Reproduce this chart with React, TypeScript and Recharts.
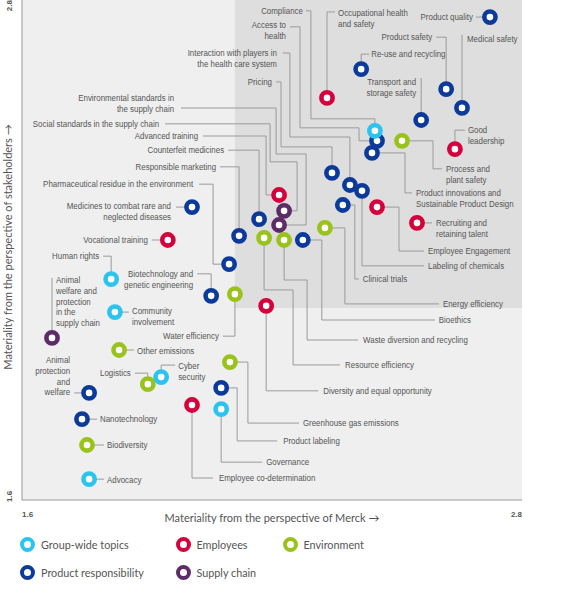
import React from 'react';
import { ScatterChart, Scatter, XAxis, YAxis, ReferenceArea } from 'recharts';

type Topic = { topic: string; x: number; y: number };

// ---------- data (materiality: x = Merck, y = stakeholders) ----------
const groupWideTopics: Topic[] = [
  { topic: 'Compliance', x: 2.447, y: 2.486 },
  { topic: 'Human rights', x: 1.814, y: 2.13 },
  { topic: 'Community involvement', x: 1.823, y: 2.051 },
  { topic: 'Cyber security', x: 1.934, y: 1.895 },
  { topic: 'Governance', x: 2.078, y: 1.818 },
  { topic: 'Advocacy', x: 1.761, y: 1.65 },
];

const productResponsibility: Topic[] = [
  { topic: 'Product quality', x: 2.723, y: 2.759 },
  { topic: 'Re-use and recycling', x: 2.414, y: 2.634 },
  { topic: 'Product safety', x: 2.618, y: 2.586 },
  { topic: 'Medical safety', x: 2.656, y: 2.541 },
  { topic: 'Transport and storage safety', x: 2.558, y: 2.512 },
  { topic: 'Access to health', x: 2.452, y: 2.462 },
  { topic: 'Product innovations and Sustainable Product Design', x: 2.44, y: 2.433 },
  { topic: 'Pricing', x: 2.344, y: 2.385 },
  { topic: 'Interaction with players in the health care system', x: 2.387, y: 2.356 },
  { topic: 'Labeling of chemicals', x: 2.416, y: 2.342 },
  { topic: 'Clinical trials', x: 2.37, y: 2.308 },
  { topic: 'Bioethics', x: 2.274, y: 2.224 },
  { topic: 'Medicines to combat rare and neglected diseases', x: 2.008, y: 2.303 },
  { topic: 'Counterfeit medicines', x: 2.169, y: 2.274 },
  { topic: 'Responsible marketing', x: 2.121, y: 2.234 },
  { topic: 'Pharmaceutical residue in the environment', x: 2.097, y: 2.166 },
  { topic: 'Biotechnology and genetic engineering', x: 2.054, y: 2.09 },
  { topic: 'Animal protection and welfare', x: 1.761, y: 1.857 },
  { topic: 'Nanotechnology', x: 1.744, y: 1.794 },
  { topic: 'Product labeling', x: 2.078, y: 1.869 },
];

const employees: Topic[] = [
  { topic: 'Occupational health and safety', x: 2.332, y: 2.565 },
  { topic: 'Good leadership', x: 2.639, y: 2.442 },
  { topic: 'Advanced training', x: 2.217, y: 2.332 },
  { topic: 'Employee Engagement', x: 2.452, y: 2.303 },
  { topic: 'Recruiting and retaining talent', x: 2.548, y: 2.265 },
  { topic: 'Vocational training', x: 1.95, y: 2.224 },
  { topic: 'Diversity and equal opportunity', x: 2.186, y: 2.066 },
  { topic: 'Employee co-determination', x: 2.008, y: 1.828 },
];

const environment: Topic[] = [
  { topic: 'Process and plant safety', x: 2.512, y: 2.462 },
  { topic: 'Resource efficiency', x: 2.181, y: 2.229 },
  { topic: 'Waste diversion and recycling', x: 2.229, y: 2.224 },
  { topic: 'Energy efficiency', x: 2.327, y: 2.253 },
  { topic: 'Water efficiency', x: 2.111, y: 2.094 },
  { topic: 'Other emissions', x: 1.833, y: 1.96 },
  { topic: 'Logistics', x: 1.902, y: 1.878 },
  { topic: 'Greenhouse gas emissions', x: 2.099, y: 1.931 },
  { topic: 'Biodiversity', x: 1.756, y: 1.732 },
];

const supplyChain: Topic[] = [
  { topic: 'Social standards in the supply chain', x: 2.229, y: 2.294 },
  { topic: 'Environmental standards in the supply chain', x: 2.217, y: 2.26 },
  { topic: 'Animal welfare and protection in the supply chain', x: 1.672, y: 1.989 },
];

const axisTicks = [1.6, 2.8];
const axisDomain: [number, number] = [1.6, 2.8];
const highlightFrom = { x: 2.111, y: 2.061 };

// ---------- styling ----------
const COLORS = {
  group: '#2BC4F0',
  product: '#0B3A9A',
  employees: '#D5003B',
  environment: '#99C31B',
  supply: '#5D2C68',
};

const series = [
  { key: 'product', name: 'Product responsibility', data: productResponsibility, color: COLORS.product },
  { key: 'employees', name: 'Employees', data: employees, color: COLORS.employees },
  { key: 'environment', name: 'Environment', data: environment, color: COLORS.environment },
  { key: 'supply', name: 'Supply chain', data: supplyChain, color: COLORS.supply },
  { key: 'group', name: 'Group-wide topics', data: groupWideTopics, color: COLORS.group },
];

const legendRows = [
  [
    { name: 'Group-wide topics', color: COLORS.group },
    { name: 'Employees', color: COLORS.employees },
    { name: 'Environment', color: COLORS.environment },
  ],
  [
    { name: 'Product responsibility', color: COLORS.product },
    { name: 'Supply chain', color: COLORS.supply },
  ],
];

const allTopics: Topic[] = [
  ...productResponsibility,
  ...employees,
  ...environment,
  ...supplyChain,
  ...groupWideTopics,
];

// label placement, in pixel offsets from each marker's centre
type Layout = { lines?: string[]; anchor: 'start' | 'end'; dx: number; dy: number; path: [number, number][] };
const labelLayout: Record<string, Layout> = {
  Compliance: { anchor: 'end', dx: -72, dy: -120, path: [[-69, -120], [-64, -120], [-64, -12], [0, -12]] },
  'Human rights': { anchor: 'end', dx: -12, dy: -23, path: [[-8, -23], [0, -23]] },
  'Community involvement': { lines: ['Community', 'involvement'], anchor: 'start', dx: 17, dy: -1, path: [[14, 0]] },
  'Cyber security': { lines: ['Cyber', 'security'], anchor: 'start', dx: 17, dy: -11, path: [[14, -12], [0, -12]] },
  Governance: { anchor: 'start', dx: 45, dy: 53, path: [[41, 53], [0, 53]] },
  Advocacy: { anchor: 'start', dx: 18, dy: 1, path: [[15, 0]] },
  'Product quality': { anchor: 'end', dx: -17, dy: 0, path: [[-14, 0]] },
  'Re-use and recycling': { anchor: 'start', dx: 10, dy: -15, path: [[8, -15], [0, -15]] },
  'Product safety': { anchor: 'end', dx: -14, dy: -52, path: [[-10, -52], [0, -52]] },
  'Medical safety': { anchor: 'start', dx: 5, dy: -69, path: [[0, -73]] },
  'Transport and storage safety': { lines: ['Transport and', 'storage safety'], anchor: 'end', dx: -5, dy: -38, path: [[0, -42]] },
  'Access to health': { lines: ['Access to', 'health'], anchor: 'end', dx: -91, dy: -116, path: [[-87, -114], [-77, -114], [-77, -13], [-18, -13], [-18, 0]] },
  'Product innovations and Sustainable Product Design': { lines: ['Product innovations and', 'Sustainable Product Design'], anchor: 'start', dx: 44, dy: 40, path: [[40, 40], [33, 40], [33, 0]] },
  Pricing: { anchor: 'end', dx: -60, dy: -91, path: [[-56, -91], [-51, -91], [-51, -26], [0, -26]] },
  'Interaction with players in the health care system': { lines: ['Interaction with players in', 'the health care system'], anchor: 'end', dx: -73, dy: -132, path: [[-67, -132], [-60, -132], [-60, -48], [0, -48]] },
  'Labeling of chemicals': { anchor: 'start', dx: 66, dy: 75, path: [[62, 75], [0, 75]] },
  'Clinical trials': { anchor: 'start', dx: 20, dy: 74, path: [[16, 74], [12, 74], [12, 0]] },
  Bioethics: { anchor: 'start', dx: 136, dy: 80, path: [[132, 80], [19, 80], [19, 0]] },
  'Medicines to combat rare and neglected diseases': { lines: ['Medicines to combat rare and', 'neglected diseases'], anchor: 'end', dx: -21, dy: -1, path: [[-16, 0]] },
  'Counterfeit medicines': { anchor: 'end', dx: -35, dy: -69, path: [[-31, -69], [0, -69]] },
  'Responsible marketing': { anchor: 'end', dx: -23, dy: -69, path: [[-19, -69], [0, -69]] },
  'Pharmaceutical residue in the environment': { anchor: 'end', dx: -36, dy: -80, path: [[-30, -80], [-16, -80], [-16, 0]] },
  'Biotechnology and genetic engineering': { lines: ['Biotechnology and', 'genetic engineering'], anchor: 'end', dx: -18, dy: -22, path: [[-14, -22], [0, -22]] },
  'Animal protection and welfare': { lines: ['Animal', 'protection', 'and', 'welfare'], anchor: 'end', dx: -19, dy: -33, path: [[-15, 0]] },
  Nanotechnology: { anchor: 'start', dx: 18, dy: 0, path: [[15, 0]] },
  'Product labeling': { anchor: 'start', dx: 62, dy: 53, path: [[56, 53], [16, 53], [16, 0]] },
  'Occupational health and safety': { lines: ['Occupational health', 'and safety'], anchor: 'start', dx: 11, dy: -85, path: [[8, -86], [0, -86]] },
  'Good leadership': { lines: ['Good', 'leadership'], anchor: 'start', dx: 13, dy: -19, path: [[10, -19], [0, -19]] },
  'Advanced training': { anchor: 'end', dx: -81, dy: -59, path: [[-76, -59], [-13, -59], [-13, 0]] },
  'Employee Engagement': { anchor: 'start', dx: 51, dy: 44, path: [[47, 44], [22, 44], [22, 0]] },
  'Recruiting and retaining talent': { lines: ['Recruiting and', 'retaining talent'], anchor: 'start', dx: 19, dy: 0, path: [[15, 0]] },
  'Vocational training': { anchor: 'end', dx: -20, dy: 0, path: [[-16, 0]] },
  'Diversity and equal opportunity': { anchor: 'start', dx: 57, dy: 85, path: [[52, 85], [0, 85]] },
  'Employee co-determination': { anchor: 'start', dx: 27, dy: 73, path: [[21, 73], [0, 73]] },
  'Process and plant safety': { lines: ['Process and', 'plant safety'], anchor: 'start', dx: 44, dy: 28, path: [[40, 28], [31, 28], [31, 0]] },
  'Resource efficiency': { anchor: 'start', dx: 81, dy: 127, path: [[76, 127], [29, 127], [29, 52], [0, 52]] },
  'Waste diversion and recycling': { anchor: 'start', dx: 79, dy: 100, path: [[74, 100], [23, 100], [23, 40], [0, 40]] },
  'Energy efficiency': { anchor: 'start', dx: 118, dy: 76, path: [[114, 76], [20, 76], [20, 0]] },
  'Water efficiency': { anchor: 'end', dx: -16, dy: 42, path: [[-12, 42], [0, 42]] },
  'Other emissions': { anchor: 'start', dx: 18, dy: 1, path: [[15, 0]] },
  Logistics: { anchor: 'end', dx: -17, dy: -11, path: [[-13, -11], [0, -11]] },
  'Greenhouse gas emissions': { anchor: 'start', dx: 73, dy: 61, path: [[69, 61], [18, 61], [18, 0]] },
  Biodiversity: { anchor: 'start', dx: 20, dy: 0, path: [[17, 0]] },
  'Social standards in the supply chain': { anchor: 'end', dx: -125, dy: -87, path: [[-119, -87], [-14, -87], [-14, -49], [13, -49], [13, 0]] },
  'Environmental standards in the supply chain': { lines: ['Environmental standards in', 'the supply chain'], anchor: 'end', dx: -105, dy: -127, path: [[-98, -117], [-3, -117], [-3, -71], [27, -71], [27, 0]] },
  'Animal welfare and protection in the supply chain': { lines: ['Animal', 'welfare and', 'protection', 'in the', 'supply chain'], anchor: 'start', dx: 4, dy: -58, path: [[0, -60]] },
};

const LABEL_FONT = "'Liberation Sans', Arial, sans-serif";
const LABEL_SQUEEZE = 0.88;
const TITLE_FONT = "Lato, 'Liberation Sans', sans-serif";
const TEXT_COLOR = '#555';
const LEADER_COLOR = '#9a9a9a';
const LINE_HEIGHT = 10.8;

const getTopic = (p: any): string => (p && p.payload && p.payload.topic) || p.topic;

const LeaderShape = (props: any) => {
  const { cx, cy } = props;
  const layout = labelLayout[getTopic(props)];
  if (!layout || cx == null) return <g />;
  const pts = [...layout.path, [0, 0]].map(([dx, dy]) => `${cx + dx},${cy + dy}`).join(' ');
  return <polyline points={pts} fill="none" stroke={LEADER_COLOR} strokeWidth={1} />;
};

const LabelShape = (props: any) => {
  const { cx, cy } = props;
  const topic = getTopic(props);
  const layout = labelLayout[topic];
  if (!layout || cx == null) return <g />;
  const lines = layout.lines || [topic];
  const ox = cx + layout.dx;
  const oy = cy + layout.dy;
  return (
    <g transform={`translate(${ox} ${oy}) scale(${LABEL_SQUEEZE} 1)`}>
      {lines.map((line, i) => (
        <text
          key={i}
          x={0}
          y={i * LINE_HEIGHT}
          textAnchor={layout.anchor}
          dominantBaseline="central"
          fontSize={9}
          fontFamily={LABEL_FONT}
          fill={TEXT_COLOR}
        >
          {line}
        </text>
      ))}
    </g>
  );
};

const makeRing = (color: string) => (props: any) => {
  const { cx, cy } = props;
  if (cx == null) return <g />;
  return <circle cx={cx} cy={cy} r={5.6} fill="#fff" stroke={color} strokeWidth={4.6} />;
};

const XTick = (props: any) => {
  const { x, payload, index } = props;
  return (
    <text
      x={x}
      y={514}
      textAnchor={index === 0 ? 'start' : 'end'}
      dominantBaseline="central"
      fontSize={8}
      fontWeight={700}
      fontFamily="'Liberation Sans', sans-serif"
      fill={TEXT_COLOR}
    >
      {payload.value.toFixed(1)}
    </text>
  );
};

const YTick = (props: any) => {
  const { y, payload, index } = props;
  const tx = 9;
  const ty = index === 0 ? y + 2 : y;
  return (
    <text
      x={tx}
      y={ty}
      transform={`rotate(-90 ${tx} ${ty})`}
      textAnchor={index === 0 ? 'start' : 'end'}
      dominantBaseline="central"
      fontSize={8}
      fontWeight={700}
      fontFamily="'Liberation Sans', sans-serif"
      fill={TEXT_COLOR}
    >
      {payload.value.toFixed(1)}
    </text>
  );
};

const XTitle = (props: any) => {
  const vb = props.viewBox || { x: 22, y: 500, width: 500 };
  const x = vb.x + vb.width / 2;
  return (
    <text x={x} y={517} textAnchor="middle" dominantBaseline="central" fontSize={11} fontFamily={TITLE_FONT} fill={TEXT_COLOR}>
      Materiality from the perspective of Merck →
    </text>
  );
};

const YTitle = (props: any) => {
  const vb = props.viewBox || { x: 0, y: 0, height: 500 };
  const y = vb.y + vb.height / 2 - 3;
  const x = 7;
  return (
    <text x={x} y={y} transform={`rotate(-90 ${x} ${y})`} textAnchor="middle" dominantBaseline="central" fontSize={11} fontFamily={TITLE_FONT} fill={TEXT_COLOR}>
      Materiality from the perspective of stakeholders →
    </text>
  );
};

const Legend = () => (
  <div style={{ position: 'absolute', left: 20, top: 537, fontFamily: TITLE_FONT, fontSize: 10.8, color: TEXT_COLOR }}>
    {legendRows.map((row, r) => (
      <div key={r} style={{ display: 'flex', height: 28 }}>
        {row.map((item, i) => (
          <div key={item.name} style={{ display: 'flex', alignItems: 'flex-start', width: i === 0 ? 155.5 : i === 1 ? 107 : 120 }}>
            <span
              style={{
                display: 'inline-block',
                width: 15,
                height: 15,
                boxSizing: 'border-box',
                borderRadius: '50%',
                border: `4.5px solid ${item.color}`,
                background: '#fff',
                marginRight: 6,
                flex: 'none',
              }}
            />
            <span style={{ lineHeight: '15px', whiteSpace: 'nowrap' }}>{item.name}</span>
          </div>
        ))}
      </div>
    ))}
  </div>
);

export default function App() {
  return (
    <div style={{ position: 'absolute', left: 0, top: 0, width: 580, height: 605, background: '#fff' }}>
      <ScatterChart width={580} height={605} margin={{ top: 0, right: 58, bottom: 0, left: 0 }}>
        <XAxis
          type="number"
          dataKey="x"
          domain={axisDomain}
          ticks={axisTicks}
          interval={0}
          height={105}
          tickLine={false}
          axisLine={{ stroke: '#999', strokeWidth: 1 }}
          tick={<XTick />}
          label={{ content: (p: any) => <XTitle {...p} /> }}
          allowDataOverflow
        />
        <YAxis
          type="number"
          dataKey="y"
          domain={axisDomain}
          ticks={axisTicks}
          interval={0}
          width={22}
          tickLine={false}
          axisLine={{ stroke: '#999', strokeWidth: 1 }}
          tick={<YTick />}
          label={{ content: (p: any) => <YTitle {...p} /> }}
          allowDataOverflow
        />
        <ReferenceArea x1={1.6} x2={2.8} y1={1.6} y2={2.8} fill="#efefef" fillOpacity={1} stroke="none" />
        <ReferenceArea x1={highlightFrom.x} x2={2.8} y1={highlightFrom.y} y2={2.8} fill="#dedede" fillOpacity={1} stroke="none" />
        <Scatter name="leaders" data={allTopics} shape={LeaderShape} isAnimationActive={false} legendType="none" />
        {series.map((s) => (
          <Scatter key={s.key} name={s.name} data={s.data} fill={s.color} shape={makeRing(s.color)} isAnimationActive={false} />
        ))}
        <Scatter name="labels" data={allTopics} shape={LabelShape} isAnimationActive={false} legendType="none" />
      </ScatterChart>
      <Legend />
    </div>
  );
}
